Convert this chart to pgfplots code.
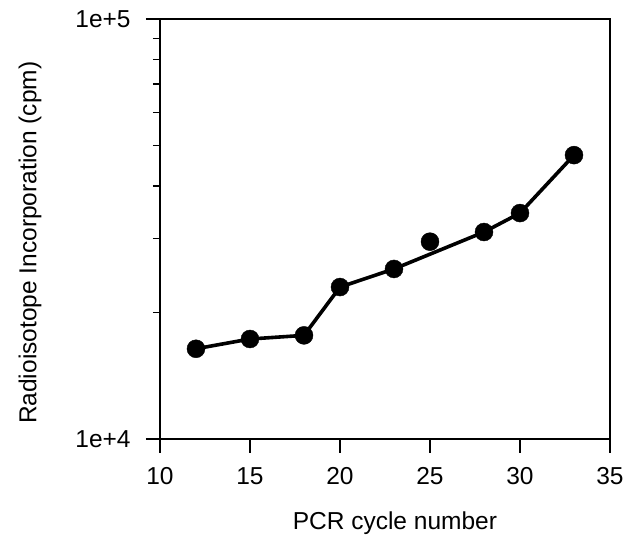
\documentclass[border=0pt]{standalone}
\usepackage{pgfplots}
\pgfplotsset{compat=1.18}
\usepackage{fontspec}
\setmainfont{Liberation Sans}
\begin{document}
\fontsize{24.5}{29}\selectfont
\begin{tikzpicture}
\begin{semilogyaxis}[
  scale only axis, width=450pt, height=420pt,
  xmin=10, xmax=35, ymin=1e4, ymax=1e5,
  xtick={10,15,20,25,30,35}, xticklabels={10,15,20,25,30,35},
  ytick={1e4,1e5}, yticklabels={1e+4,1e+5},
  minor ytick={2e4,3e4,4e4,5e4,6e4,7e4,8e4,9e4},
  /pgf/number format/assume math mode=true,
  tick align=outside, xtick pos=bottom, ytick pos=left,
  major tick length=14pt, minor tick length=7pt,
  axis line style={line width=1.3pt},
  tick style={black, line width=1.3pt},
  tick label style={font=\fontsize{24.5}{29}\selectfont},
  label style={font=\fontsize{24.5}{29}\selectfont},
  xticklabel style={yshift=-6pt},
  yticklabel style={xshift=-7pt},
  xlabel={PCR cycle number},
  ylabel={Radioisotope Incorporation (cpm)},
  xlabel style={at={(axis description cs:0.522,-0.2)}, anchor=center},
  ylabel style={at={(axis description cs:-0.289,0.467)}, anchor=center},
]
\addplot[black, line width=3.6pt, no marks] coordinates {
  (12,16400) (15,17300) (18,17650) (20,23000) (23,25400) (28,31100) (30,34500) (33,47400)
};
\addplot[black, only marks, mark=*, mark size=9pt] coordinates {
  (12,16400) (15,17300) (18,17650) (20,23000) (23,25400) (25,29500) (28,31100) (30,34500) (33,47400)
};
\end{semilogyaxis}
\pgfresetboundingbox
\useasboundingbox (-160pt,-109pt) rectangle (467pt,439pt);
\end{tikzpicture}
\end{document}
